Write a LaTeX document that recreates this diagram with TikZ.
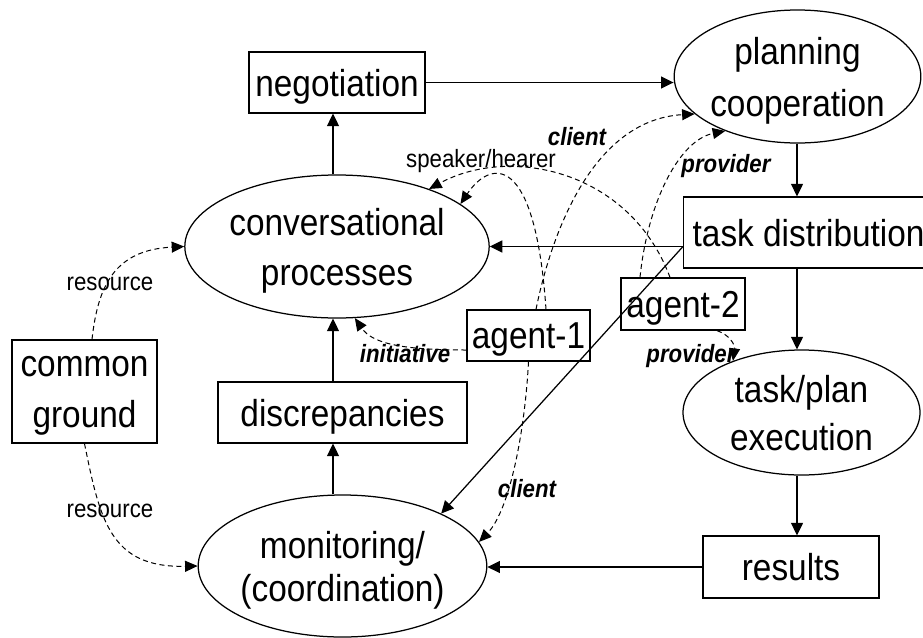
\documentclass[tikz,border=0pt]{standalone}
\usepackage{fontspec}
\setmainfont[FakeStretch=0.89]{Liberation Sans}
\usetikzlibrary{arrows.meta,shapes.geometric}
\begin{document}
\begin{tikzpicture}[x=1pt,y=-1pt,
  box/.style={draw, line width=1.25pt, inner sep=0pt, align=center, text depth=0pt, font=\fontsize{37.5}{51}\selectfont},
  oval/.style={draw, ellipse, line width=1.25pt, inner sep=0pt, align=center, text depth=0pt},
  arr/.style={line width=1.25pt, -{Triangle[length=12.5pt,width=12pt]}},
  darr/.style={line width=1pt, dash pattern=on 5pt off 3.5pt, -{Triangle[length=12.5pt,width=11pt]}},
  lab/.style={font=\fontsize{25}{30}\selectfont, anchor=base, inner sep=0pt},
  blab/.style={font=\fontsize{25}{30}\selectfont\bfseries\itshape, anchor=base, inner sep=0pt}]
\useasboundingbox (0,0) rectangle (923,637);
\clip (0,0) rectangle (923,637);

% nodes
\node[box, minimum width=176pt, minimum height=61pt] (neg) at (337,82.5) {negotiation};
\node[oval, minimum width=229pt, minimum height=133pt, font=\fontsize{37.5}{52}\selectfont] (plan) at (797.5,76.5) {planning\\cooperation};
\node[oval, minimum width=280pt, minimum height=143pt, font=\fontsize{37.5}{50}\selectfont] (conv) at (337,246.5) {conversational\\processes};
\node[box, minimum width=250pt, minimum height=71pt, anchor=west] (td) at (683,232.5) {task distribution};
\node[box, minimum width=123pt, minimum height=51pt] (a1) at (528.5,335.5) {agent-1};
\node[box, minimum width=124pt, minimum height=52pt] (a2) at (683,304) {agent-2};
\node[box, minimum width=145pt, minimum height=103pt] (cg) at (84.5,391.5) {common\\ground};
\node[box, minimum width=249pt, minimum height=61pt] (disc) at (342.5,412.5) {discrepancies};
\node[oval, minimum width=237pt, minimum height=125pt, font=\fontsize{37.5}{48}\selectfont] (tp) at (801.5,412.5) {task/plan\\execution};
\node[box, minimum width=176pt, minimum height=62pt] (res) at (791,567) {results};
\node[oval, minimum width=249pt, minimum height=142pt, font=\fontsize{37.5}{43}\selectfont] (mon) at (342.5,566) {monitoring/\\(coordination)};

\coordinate (vx) at (333,0);
\coordinate (vy) at (797,0);

% solid connectors
\draw[arr] (neg.east) -- (neg.east -| plan.west);
\draw[arr] (vx |- conv.north) -- (vx |- neg.south);
\draw[arr] (vy |- plan.south) -- (vy |- td.north);
\draw[arr] (conv.east -| td.west) -- (conv.east);
\draw[arr] (conv.east -| td.west) -- (mon.28);
\draw[arr] (vy |- td.south) -- (vy |- tp.north);
\draw[arr] (vy |- tp.south) -- (vy |- res.north);
\draw[arr] (res.west) -- (res.west -| mon.east);
\draw[arr] (vx |- mon.north) -- (vx |- disc.south);
\draw[arr] (vx |- disc.north) -- (vx |- conv.south);

% dashed connectors
\draw[darr] ([xshift=7.5pt]cg.north) .. controls (98,285) and (115,250) .. (conv.west);
\draw[darr] (cg.south) .. controls (100,520) and (110,568) .. (mon.west);
\draw[darr] ([yshift=-14.5pt]a1.west) .. controls (400,350) and (372,343) .. (conv.-76);
\draw[darr] ([xshift=7.5pt]a1.north) .. controls (550,240) and (590,120) .. (plan.200);
\draw[darr] ([xshift=17.5pt]a1.north) .. controls (535,150) and (490,160) .. (conv.19);
\draw[darr] ([xshift=-13pt]a2.north) .. controls (630,170) and (510,145) .. (conv.32);
\draw[darr] ([xshift=-43pt]a2.north) .. controls (648,200) and (680,140) .. (plan.217);
\draw[darr] ([xshift=34pt]a2.south) .. controls (730,335) and (735,345) .. (tp.143);
\draw[darr] (a1.south) .. controls (525,430) and (510,510) .. (mon.10);

% labels
\node[blab] (lclient1) at (577,145) {client};
\node[lab] (lsh) at (481,167) {speaker/hearer};
\node[blab] (lprov1) at (726,172) {provider};
\node[blab] (lprov2) at (691,362) {provider};
\node[blab] (linit) at (405,362) {initiative};
\node[blab] (lclient2) at (527,497) {client};
\node[lab] (lres1) at (110,290) {resource};
\node[lab] (lres2) at (110,517) {resource};
\end{tikzpicture}
\end{document}
